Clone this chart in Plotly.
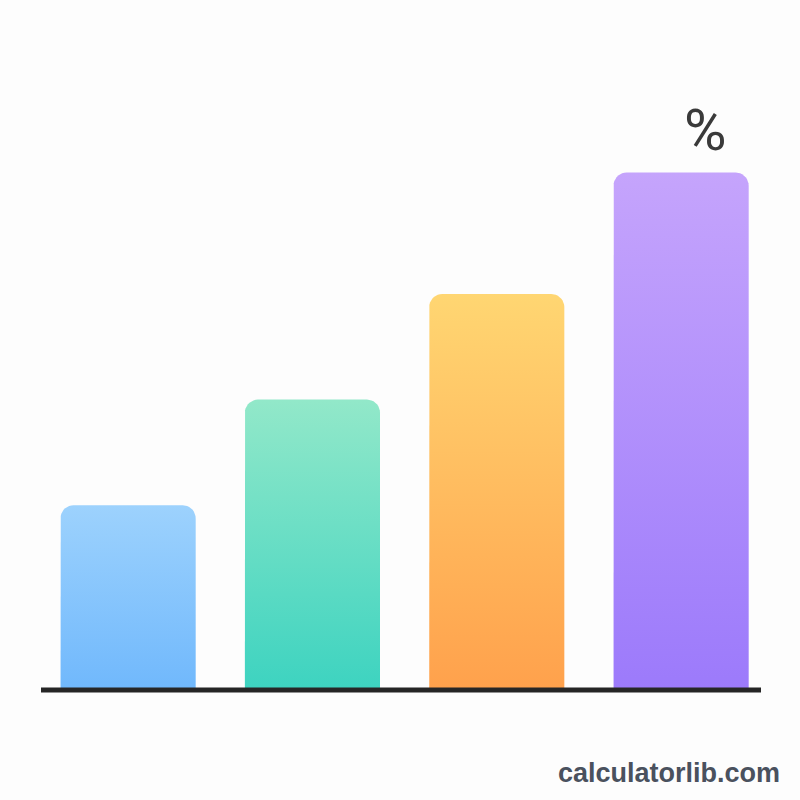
import numpy as np
import plotly.graph_objects as go

# bar values (arbitrary units)
categories = [0, 1, 2, 3]
values = [35, 55, 75, 98]
top_colors = ["#9DD2FD", "#92E8C9", "#FFD672", "#C5A4FC"]
bottom_colors = ["#70B8FC", "#3DD3C0", "#FFA14C", "#9C7AFB"]

W, H = 800, 800
x_range = [-0.695, 3.645]
y_range = [-20.83, 130.68]
bar_width = 0.733
radius_px = 13

px_per_x = W / (x_range[1] - x_range[0])
px_per_y = H / (y_range[1] - y_range[0])
rx = radius_px / px_per_x
ry = radius_px / px_per_y


def rounded_bar(xc, h):
    """Polygon of a bar with rounded top corners, in data units."""
    left, right = xc - bar_width / 2, xc + bar_width / 2
    xs, ys = [left], [0]
    t = np.linspace(np.pi, np.pi / 2, 10)
    xs += list(left + rx + rx * np.cos(t))
    ys += list(h - ry + ry * np.sin(t))
    t = np.linspace(np.pi / 2, 0, 10)
    xs += list(right - rx + rx * np.cos(t))
    ys += list(h - ry + ry * np.sin(t))
    xs += [right, left]
    ys += [0, 0]
    return xs, ys


fig = go.Figure()

for cat, val, ctop, cbot in zip(categories, values, top_colors, bottom_colors):
    xs, ys = rounded_bar(cat, val)
    fig.add_trace(go.Scatter(
        x=xs, y=ys,
        mode="lines",
        line=dict(width=0),
        fill="toself",
        fillgradient=dict(type="vertical", colorscale=[[0, cbot], [1, ctop]]),
        hoverinfo="skip",
        showlegend=False,
    ))

# baseline
fig.add_shape(
    type="line", xref="paper", yref="y",
    x0=41 / W, x1=761 / W, y0=0, y1=0,
    line=dict(color="#262626", width=5),
)

fig.add_annotation(
    x=categories[-1] + 0.13, y=values[-1] + 8,
    text="%", showarrow=False,
    font=dict(family="Roboto", size=58, color="#3A3A3A", weight=400),
    yanchor="middle",
)

fig.add_annotation(
    xref="paper", yref="paper", x=782 / W, y=1 - 773 / H,
    xanchor="right", yanchor="middle",
    text="<b>calculatorlib.com</b>", showarrow=False,
    font=dict(family="Liberation Sans", size=27, color="#4A515E"),
)

fig.update_layout(
    width=W, height=H,
    margin=dict(l=0, r=0, t=0, b=0),
    paper_bgcolor="#FDFDFD",
    plot_bgcolor="#FDFDFD",
    xaxis=dict(range=x_range, visible=False, fixedrange=True),
    yaxis=dict(range=y_range, visible=False, fixedrange=True),
    showlegend=False,
)

fig.write_html(
    "out.html",
    config={"displayModeBar": False},
    post_script="document.body.style.margin='0';",
)
